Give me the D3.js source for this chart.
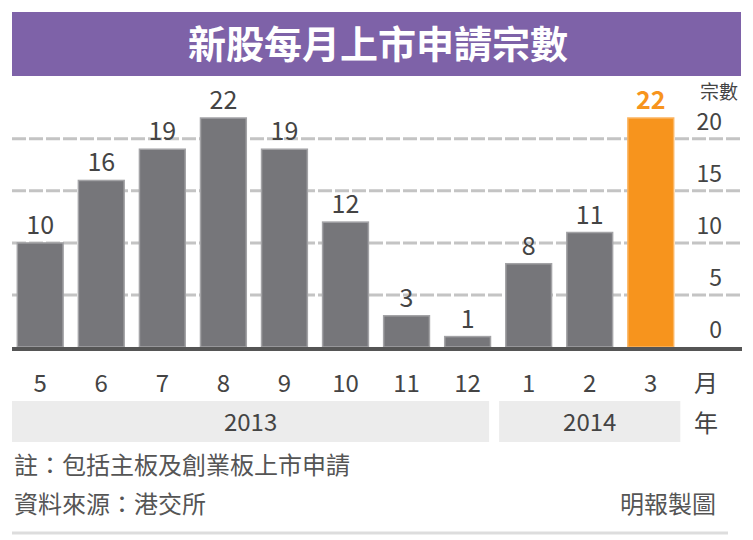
<!DOCTYPE html>
<html><head><meta charset="utf-8">
<script src="https://cdn.jsdelivr.net/npm/d3@7"></script>
<style>body{margin:0;background:#fff}text{font-family:"Noto Sans CJK TC","Liberation Sans",sans-serif}</style>
</head><body><div id="chart"></div>
<script>
const TITLE = '新股每月上市申請宗數';
const months = ['5','6','7','8','9','10','11','12','1','2','3'];
const counts = [10,16,19,22,19,12,3,1,8,11,22];
const yTicks = [0,5,10,15,20];
const years = [{label:'2013', from:0, to:7},{label:'2014', from:8, to:10}];
const NOTE = '註：包括主板及創業板上市申請';
const SOURCE = '資料來源：港交所';
const CREDIT = '明報製圖';

const svg = d3.select('#chart').append('svg').attr('width',753).attr('height',540);

// title bar
svg.append('rect').attr('x',12).attr('y',12).attr('width',729).attr('height',64).attr('fill','#7e62a8');
svg.append('text').attr('x',378).attr('y',58).attr('text-anchor','middle')
  .attr('font-size',38).attr('font-weight','bold').attr('fill','#fff').text(TITLE);

const x = d3.scaleBand().domain(months.map((m,i)=>i)).range([10,681]).paddingInner(0.25).paddingOuter(0.12);
const y = d3.scaleLinear().domain([0,22]).range([347,118]);

// gridlines
svg.selectAll('.grid').data(yTicks.filter(d=>d>0)).join('line')
  .attr('x1',12).attr('x2',742).attr('y1',d=>y(d)).attr('y2',d=>y(d))
  .attr('stroke','#c4c4c4').attr('stroke-width',3).attr('stroke-dasharray','14,3');

// right axis labels
svg.selectAll('.yl').data(yTicks).join('text')
  .attr('x',722).attr('y',d=>y(d)-9).attr('text-anchor','end')
  .attr('font-size',23).attr('fill','#444').text(d=>d);
svg.append('text').attr('x',738).attr('y',99).attr('text-anchor','end').attr('font-size',19).attr('fill','#444').text('宗數');

// bars
svg.selectAll('.bar').data(counts).join('rect')
  .attr('x',(d,i)=>x(i)).attr('width',x.bandwidth())
  .attr('y',d=>y(d)).attr('height',d=>y(0)-y(d))
  .attr('fill',(d,i)=>i===counts.length-1?'#f7941d':'#76767a')
  .attr('stroke',(d,i)=>i===counts.length-1?'#fbb460':'#a3a3a6').attr('stroke-width',1.5);

// value labels
svg.selectAll('.vl').data(counts).join('text')
  .attr('x',(d,i)=>x(i)+x.bandwidth()/2).attr('y',d=>y(d)-9).attr('text-anchor','middle')
  .attr('font-size',25).attr('font-weight',(d,i)=>i===counts.length-1?'bold':'normal')
  .attr('fill',(d,i)=>i===counts.length-1?'#f7941d':'#444').text(d=>d);

// baseline
svg.append('line').attr('x1',12).attr('x2',742).attr('y1',y(0)+2).attr('y2',y(0)+2).attr('stroke','#555').attr('stroke-width',4);

// month labels
svg.selectAll('.ml').data(months).join('text')
  .attr('x',(d,i)=>x(i)+x.bandwidth()/2).attr('y',392).attr('text-anchor','middle')
  .attr('font-size',24).attr('fill','#444').text(d=>d);
svg.append('text').attr('x',706).attr('y',392).attr('text-anchor','middle').attr('font-size',24).attr('fill','#444').text('月');

// year bands
years.forEach(yr=>{
  const x0 = yr.from===0 ? 12 : x(yr.from)-x.step()*x.paddingInner()/2+1;
  const x1 = x(yr.to)+x.bandwidth()+x.step()*x.paddingInner()/2-(yr.from===0?9:1);
  svg.append('rect').attr('x',x0).attr('y',401).attr('width',x1-x0).attr('height',41).attr('fill','#ececec');
  svg.append('text').attr('x',(x0+x1)/2).attr('y',431).attr('text-anchor','middle').attr('font-size',24).attr('fill','#444').text(yr.label);
});
svg.append('text').attr('x',706).attr('y',432).attr('text-anchor','middle').attr('font-size',24).attr('fill','#444').text('年');

// notes
svg.append('text').attr('x',14).attr('y',474).attr('font-size',24).attr('fill','#555').text(NOTE);
svg.append('text').attr('x',14).attr('y',513).attr('font-size',24).attr('fill','#555').text(SOURCE);
svg.append('text').attr('x',716).attr('y',513).attr('text-anchor','end').attr('font-size',24).attr('fill','#555').text(CREDIT);
svg.append('line').attr('x1',12).attr('x2',728).attr('y1',533).attr('y2',533).attr('stroke','#ddd').attr('stroke-width',3);
</script></body></html>
